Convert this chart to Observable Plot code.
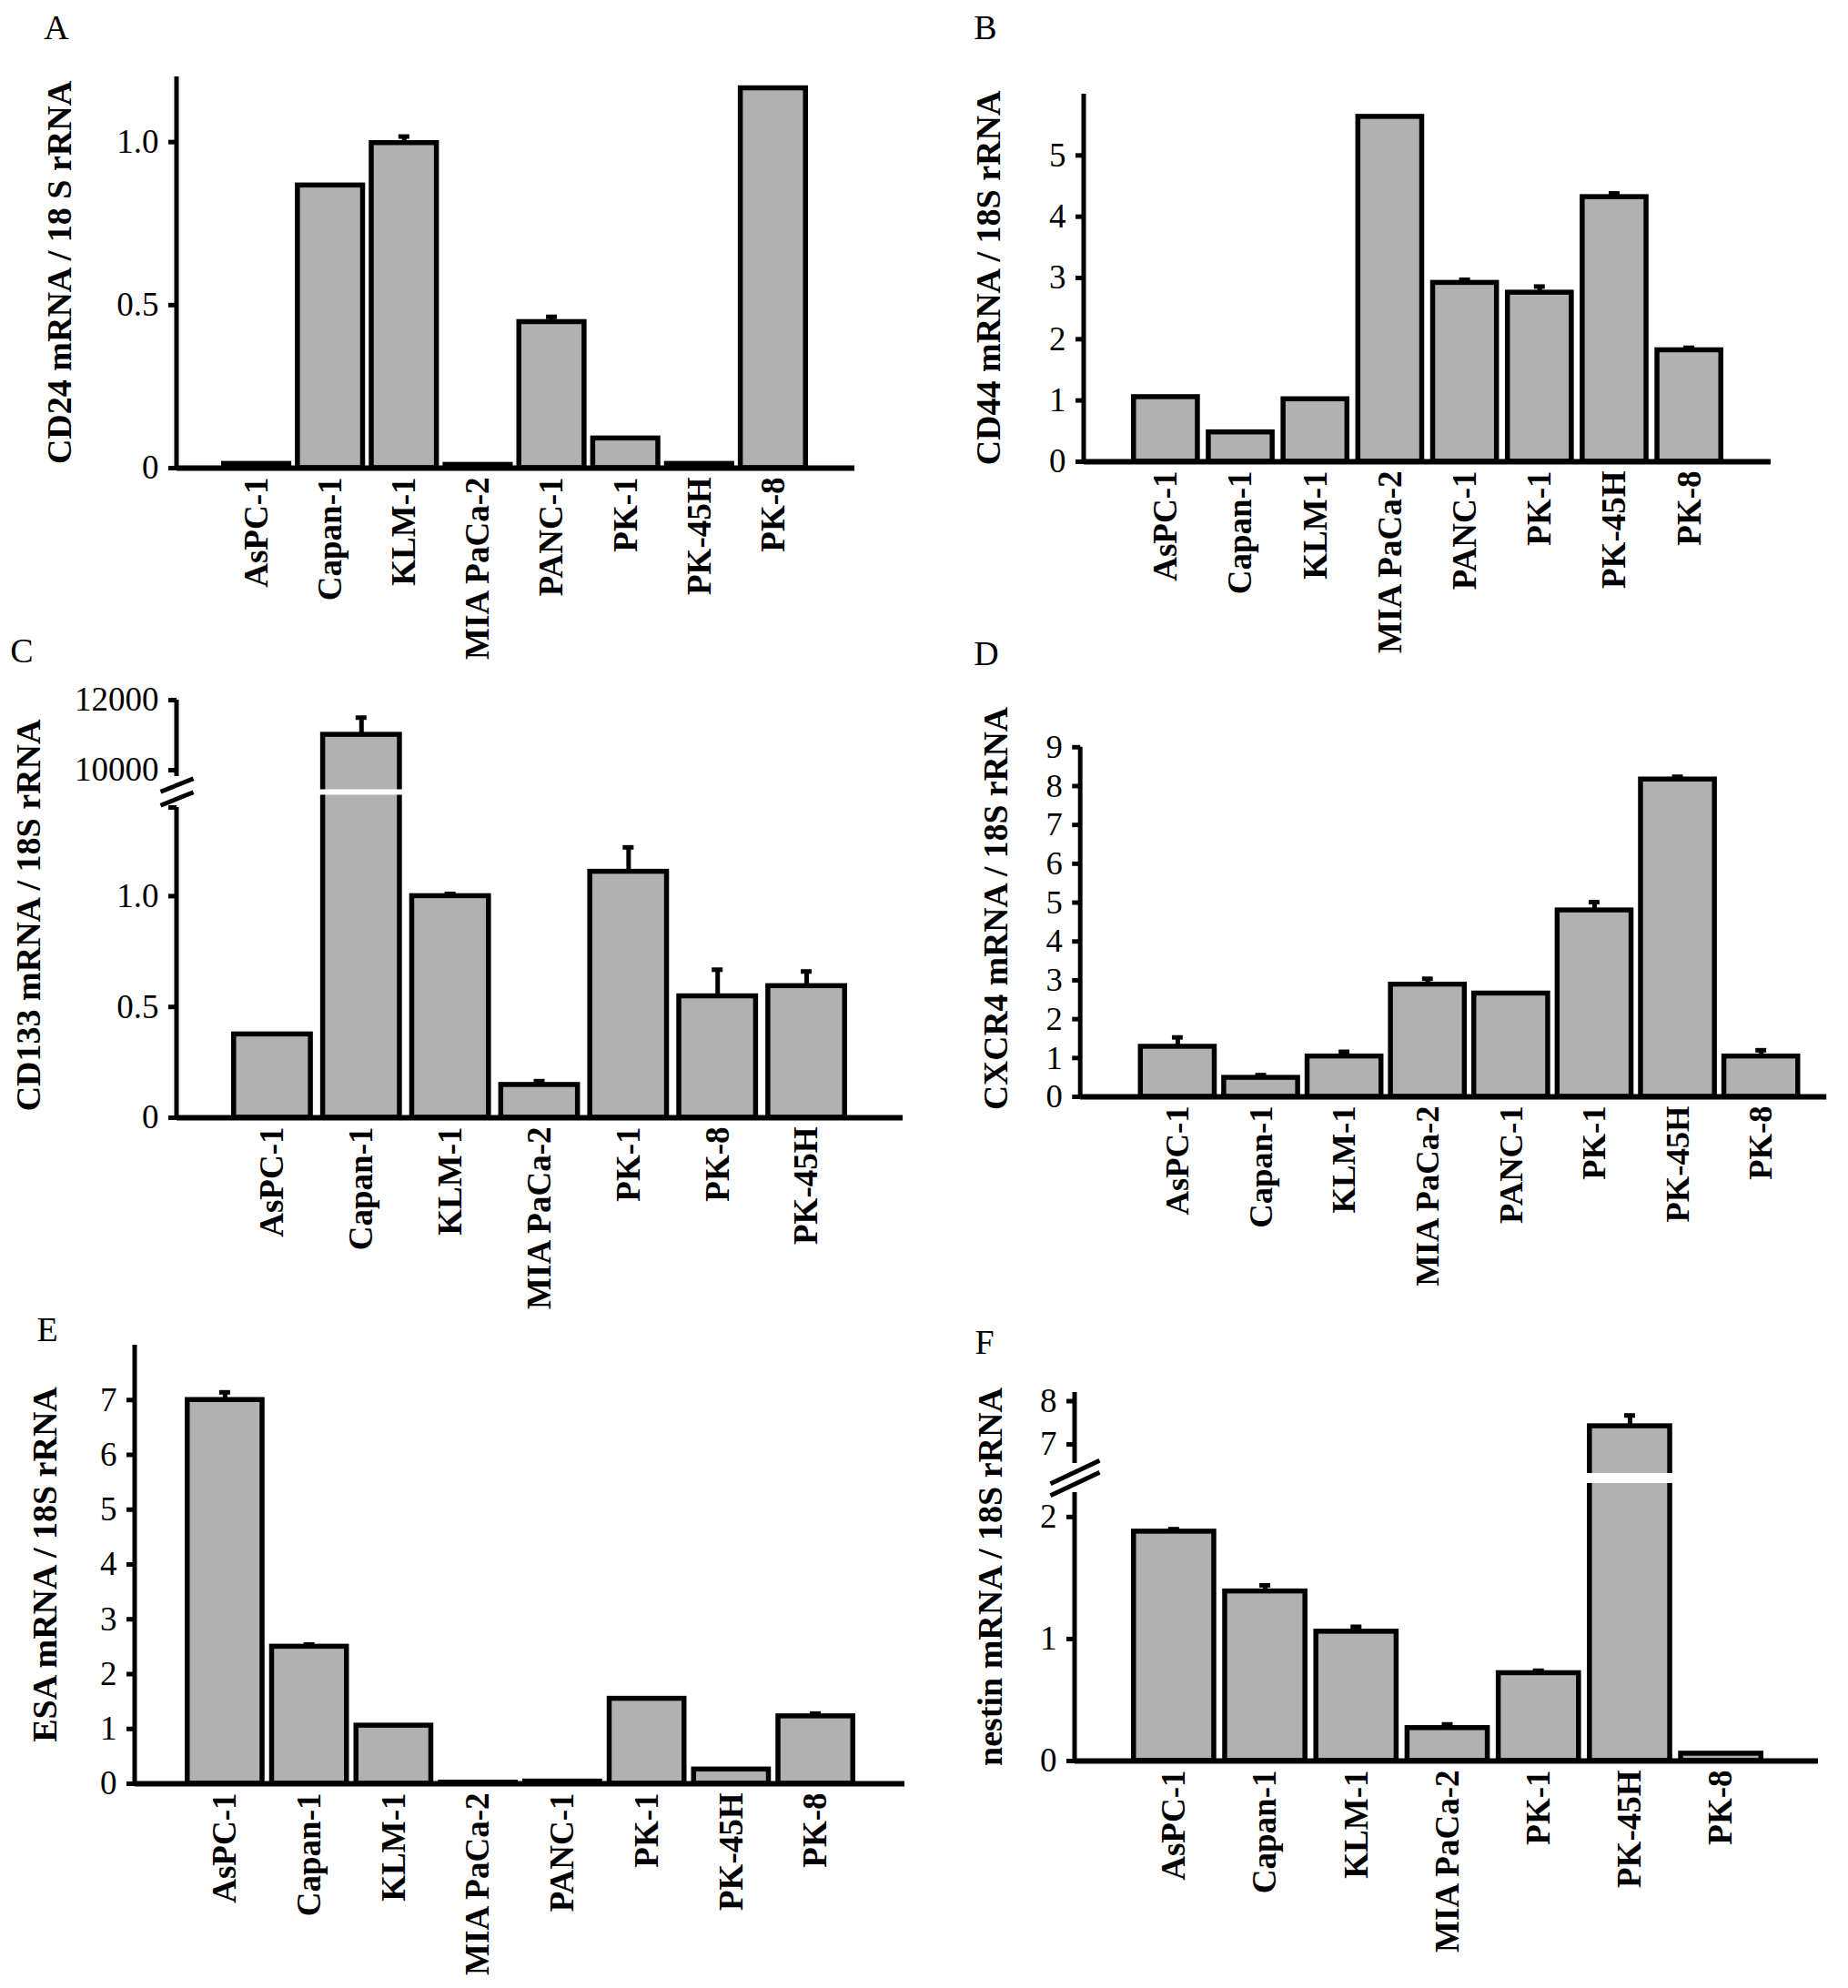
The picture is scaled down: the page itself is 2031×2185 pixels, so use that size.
<!DOCTYPE html>
<html>
<head>
<meta charset="utf-8">
<script src="https://cdn.jsdelivr.net/npm/d3@7"></script>
<script src="https://cdn.jsdelivr.net/npm/@observablehq/plot@0.6"></script>
<style>
  body { margin: 0; background: #fff; }
  #page { position: relative; width: 2031px; height: 2185px; overflow: hidden; background: #fff;
          font-family: "Liberation Serif", "Times New Roman", serif; }
  .panel { position: absolute; }
  .letter { position: absolute; font-size: 38px; line-height: 1; transform: translate(-50%, -50%); }
</style>
</head>
<body>
<div id="page"></div>
<script>
// cell lines (order differs in C and F)
const cellLines = ["AsPC-1", "Capan-1", "KLM-1", "MIA PaCa-2", "PANC-1", "PK-1", "PK-45H", "PK-8"];
const cellLinesC = ["AsPC-1", "Capan-1", "KLM-1", "MIA PaCa-2", "PK-1", "PK-8", "PK-45H"];
const cellLinesF = ["AsPC-1", "Capan-1", "KLM-1", "MIA PaCa-2", "PK-1", "PK-45H", "PK-8"];

// A: CD24
const cd24 = [0.013, 0.867, 0.997, 0.01, 0.448, 0.091, 0.013, 1.165];
const cd24Err = [0, 0, 0.02, 0, 0.016, 0, 0, 0];
// B: CD44
const cd44 = [1.055, 0.48, 1.02, 5.63, 2.92, 2.76, 4.32, 1.82];
const cd44Err = [0, 0, 0, 0, 0.05, 0.1, 0.06, 0.04];
// C: CD133 (broken axis)
const cd133 = [0.376, 11010, 1.0, 0.148, 1.11, 0.548, 0.594];
const cd133Err = [0, 490, 0.01, 0.017, 0.11, 0.12, 0.066];
// D: CXCR4
const cxcr4 = [1.29, 0.49, 1.04, 2.89, 2.66, 4.8, 8.17, 1.04];
const cxcr4Err = [0.24, 0.07, 0.12, 0.15, 0, 0.21, 0.07, 0.16];
// E: ESA
const esa = [7.0, 2.5, 1.06, 0.02, 0.04, 1.55, 0.26, 1.23];
const esaErr = [0.14, 0.04, 0, 0, 0, 0, 0, 0.05];
// F: nestin (broken axis)
const nestin = [1.88, 1.39, 1.06, 0.27, 0.72, 7.42, 0.06];
const nestinErr = [0.02, 0.05, 0.04, 0.03, 0.02, 0.25, 0];

// y ticks
const ticksA = [0, 0.5, 1], labelsA = ["0", "0.5", "1.0"];
const ticksB = [0, 1, 2, 3, 4, 5], labelsB = ["0", "1", "2", "3", "4", "5"];
const ticksC = [0, 0.5, 1, 1.4, 10000, 12000], labelsC = ["0", "0.5", "1.0", "", "10000", "12000"];
const ticksD = [0, 1, 2, 3, 4, 5, 6, 7, 8, 9], labelsD = ticksD.map(String);
const ticksE = [0, 1, 2, 3, 4, 5, 6, 7], labelsE = ticksE.map(String);
const ticksF = [0, 1, 2, 7, 8], labelsF = ["0", "1", "2", "7", "8"];

const FILL = "#b1b1b1";
const SW = 5.5; // bar outline
const FONT = '"Liberation Serif", "Times New Roman", serif';

const page = document.getElementById("page");

// band range so the outlined bars land between L and R (page px)
function bandRange(L, R, n, gap, offset) {
  const step = (R - L + gap) / n;
  const p = (gap + SW) / step;
  const a = L - gap - SW / 2 - offset;
  return {range: [a, a + step * (n + p)], padding: p, bandwidth: step * (1 - p)};
}

// two slanted strokes for the axis break
function slashSymbol(sep, slope) {
  return {
    draw(ctx, size) {
      const r = Math.sqrt(size / Math.PI);
      for (const o of [-sep / 2, sep / 2]) {
        ctx.moveTo(-r, o + r * slope);
        ctx.lineTo(r, o - r * slope);
      }
    }
  };
}

function panel(cfg) {
  const ML = 190, MT = 24, MR = 24, MB = 240;
  const left = cfg.axisX - ML, top = cfg.top - MT;
  const frameW = cfg.right - cfg.axisX;
  const width = ML + frameW + MR;
  const height = MT + (cfg.base - cfg.top) + MB;
  const band = bandRange(cfg.L, cfg.R, cfg.names.length, cfg.gap, left);
  const rows = cfg.names.map((name, i) => ({name, value: cfg.values[i], err: cfg.errs[i]}));
  const withErr = rows.filter(d => d.err > 0);
  const tickLabel = new Map(cfg.ticks.map((t, i) => [t, cfg.tickLabels[i]]));

  const marks = [
    // y axis line (possibly broken)
    Plot.rect(cfg.segments, {y1: d => d[0], y2: d => d[1], fill: "black", insetLeft: -2.5, insetRight: frameW - 2.5}),
    Plot.axisY({ticks: cfg.ticks, tickFormat: d => tickLabel.get(d), tickSize: 9, tickPadding: 11, strokeWidth: 5, label: null}),
    Plot.barY(rows, {x: "name", y: "value", fill: FILL, stroke: "black", strokeWidth: SW}),
    Plot.ruleX(withErr, {x: "name", y1: "value", y2: d => d.value + d.err, strokeWidth: 5}),
    Plot.tickY(withErr, {x: "name", y: d => d.value + d.err, strokeWidth: 5, inset: (band.bandwidth - 12) / 2}),
    Plot.ruleY([0], {strokeWidth: 6}),
    Plot.axisX({tickRotate: -90, tickSize: 0, tickPadding: 10, fontWeight: "bold", label: null}),
    Plot.text([cfg.title], {frameAnchor: "left", textAnchor: "middle", lineAnchor: "middle", rotate: -90,
                            dx: -cfg.titleOffset, dy: cfg.titleDy || 0, fontWeight: "bold", fontSize: 38})
  ];
  if (cfg.brk) {
    const mid = (cfg.segments[0][1] + cfg.segments[1][0]) / 2;
    marks.push(
      Plot.ruleY([mid], {stroke: "white", strokeWidth: cfg.brk.gapW}),
      Plot.dot([mid], {y: d => d, frameAnchor: "left", symbol: slashSymbol(cfg.brk.sep, cfg.brk.slope),
                       r: cfg.brk.r, stroke: "black", strokeWidth: 5, fill: "none"})
    );
  }

  const chart = Plot.plot({
    width, height,
    marginLeft: ML, marginTop: MT, marginRight: MR, marginBottom: MB,
    x: {domain: cfg.names, range: band.range, padding: band.padding, round: false, label: null},
    y: {type: "linear", domain: cfg.yDomain, range: cfg.yRange.map(v => v - top), label: null},
    style: {background: "transparent", fontFamily: FONT, fontSize: "37px", color: "black", overflow: "visible"},
    marks
  });
  const div = document.createElement("div");
  div.className = "panel";
  div.style.left = left + "px";
  div.style.top = top + "px";
  div.append(chart);
  page.append(div);

  const letter = document.createElement("div");
  letter.className = "letter";
  letter.textContent = cfg.letter;
  letter.style.left = cfg.letterPos[0] + "px";
  letter.style.top = cfg.letterPos[1] + "px";
  page.append(letter);
}

panel({letter: "A", letterPos: [62, 30], title: "CD24 mRNA / 18 S rRNA", titleOffset: 129,
  names: cellLines, values: cd24, errs: cd24Err,
  axisX: 194, top: 84, base: 514, right: 939, L: 243, R: 888, gap: 4,
  yDomain: [0, 1.2], yRange: [514, 84], segments: [[0, 1.2]], ticks: ticksA, tickLabels: labelsA});

panel({letter: "B", letterPos: [1083, 30], title: "CD44 mRNA / 18S rRNA", titleOffset: 105,
  names: cellLines, values: cd44, errs: cd44Err,
  axisX: 1191, top: 103, base: 507, right: 1946, L: 1243, R: 1894, gap: 6.5,
  yDomain: [0, 6], yRange: [507, 103], segments: [[0, 6]], ticks: ticksB, tickLabels: labelsB});

panel({letter: "C", letterPos: [24, 715], title: "CD133 mRNA / 18S rRNA", titleOffset: 163, titleDy: 7,
  names: cellLinesC, values: cd133, errs: cd133Err,
  axisX: 194, top: 769, base: 1228, right: 992, L: 254, R: 931, gap: 8,
  yDomain: [0, 1.4, 9818, 12000], yRange: [1228, 887, 853, 769], segments: [[0, 1.4], [9818, 12000]],
  ticks: ticksC, tickLabels: labelsC, brk: {r: 18, sep: 15, slope: 0.4, gapW: 6}});

panel({letter: "D", letterPos: [1084, 718], title: "CXCR4 mRNA / 18S rRNA", titleOffset: 94, titleDy: -15,
  names: cellLines, values: cxcr4, errs: cxcr4Err,
  axisX: 1189, top: 821, base: 1209, right: 2017, L: 1253, R: 1988, gap: 5,
  yDomain: [0, 9], yRange: [1209, 821], segments: [[0, 9]], ticks: ticksD, tickLabels: labelsD});

panel({letter: "E", letterPos: [52, 1461], title: "ESA mRNA / 18S rRNA", titleOffset: 99,
  names: cellLines, values: esa, errs: esaErr,
  axisX: 148, top: 1478, base: 1960, right: 994, L: 203, R: 940, gap: 5,
  yDomain: [0, 8], yRange: [1960, 1478], segments: [[0, 8]], ticks: ticksE, tickLabels: labelsE});

panel({letter: "F", letterPos: [1082, 1475], title: "nestin mRNA / 18S rRNA", titleOffset: 93,
  names: cellLinesF, values: nestin, errs: nestinErr,
  axisX: 1181, top: 1530, base: 1935, right: 1998, L: 1243, R: 1938, gap: 6.5,
  yDomain: [0, 2.2, 6.56, 8.2], yRange: [1935, 1640, 1608, 1530], segments: [[0, 2.2], [6.56, 8.2]],
  ticks: ticksF, tickLabels: labelsF, brk: {r: 27, sep: 13, slope: 0.47, gapW: 11}});
</script>
</body>
</html>
